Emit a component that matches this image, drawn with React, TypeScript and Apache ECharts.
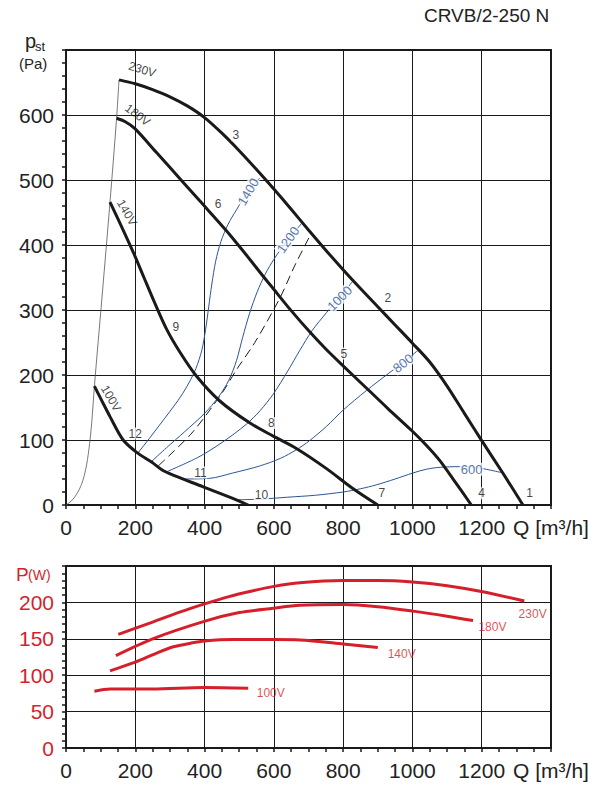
import React, { useEffect, useRef } from 'react';
import * as echarts from 'echarts';

const FONT = '"Liberation Sans", Arial, Helvetica, sans-serif';
const BLACK = '#1a1a1a';
const BLUE = '#2b5496';
const RED = '#d51f2b';

// ---- Top chart: static pressure pst [Pa] vs airflow Q [m3/h]
const p230 = [[153,654],[200,648],[250,639],[300,628],[350,614],[400,596],[450,572],[500,545],[550,516],[600,486],[650,455],[700,423],[750,392],[800,362],[850,333],[900,305],[950,277],[1000,249],[1050,220],[1100,183],[1150,141],[1200,99],[1260,50],[1319,0]];
const p180 = [[146,595],[170,590],[199,579],[260,543],[334,499],[386,468],[463,422],[520,385],[569,352],[598,333],[650,299],[704,266],[750,240],[800,214],[867,180],[930,148],[997,115],[1040,92],[1078,69],[1120,38],[1170,0]];
const p140 = [[127,466],[165,423],[199,383],[225,350],[252,316],[290,271],[329,235],[377,198],[444,160],[531,126],[598,106],[665,87],[752,56],[829,25],[900,0]];
const p100 = [[82,183],[100,164],[127,136],[165,100],[204,81],[247,66],[280,53],[309,46],[396,28],[463,14],[500,6],[526,0]];
const stallLine = [[0,0],[15,6],[30,16],[45,32],[57,55],[66,85],[74,125],[82,183],[104,320],[127,466],[146,595],[153,654]];
const systemCurve = [[266,60],[300,77],[367,113],[450,172],[492,208],[545,250],[617,318],[660,368],[708,418]];

// rpm iso-lines
const rpm1400 = [[206,79],[240,102],[270,123],[300,144],[330,166],[355,188],[375,210],[392,238],[403,270],[412,305],[421,340],[432,375],[447,405],[468,432],[492,454],[525,482],[559,503]];
const rpm1200 = [[247,67],[290,88],[343,113],[400,141],[440,166],[470,192],[492,222],[510,258],[530,295],[552,328],[575,355],[600,378],[640,408],[680,433]];
const rpm1000 = [[290,51],[380,73],[450,96],[520,124],[560,145],[600,172],[640,206],[675,238],[710,268],[752,296],[790,320],[829,345]];
const rpm800 = [[340,40],[415,41],[480,49],[559,60],[620,72],[665,85],[703,99],[752,121],[800,146],[867,176],[930,202],[975,220],[1016,238]];
const rpm600 = [[490,8],[560,9],[640,12],[720,15],[800,20],[850,25],[896,31],[950,40],[1000,49],[1040,55],[1080,58],[1136,59],[1180,58],[1213,55],[1256,50]];

// annotations (text, Q, pst)
const curveNumbers = [['1',1338,18],['2',929,319],['3',490,569],['4',1200,18],['5',802,233],['6',439,463],['7',912,18],['8',593,126],['9',317,274],['10',564,15],['11',388,50],['12',200,110]];
const voltageTags = [['230V',220,670],['180V',207,600],['140V',176,450],['100V',130,164]];
const rpmTags = [['1400',526,482],['1200',641,408],['1000',790,318],['800',973,218],['600',1171,55]];

// ---- Bottom chart: power P [W] vs Q [m3/h]
const w230 = [[151,156],[250,173],[330,187],[400,198],[470,208],[540,216],[600,222],[675,227],[800,230],[900,230],[1000,228],[1100,223],[1199,215],[1323,202]];
const w180 = [[144,127],[250,150],[399,174],[500,186],[598,192],[675,196],[800,197],[900,194],[1001,188],[1100,181],[1175,175]];
const w140 = [[127,106],[200,118],[260,130],[310,139],[360,144],[400,147],[482,149],[600,149],[675,148.5],[800,143],[900,138]];
const w100 = [[82,78],[127,81],[250,81],[399,83],[526,82]];
const powerTags = [['100V',591,76],['140V',969,129],['180V',1231,166],['230V',1347,184]];

// axis ranges / tick steps
const qAxis = { min: 0, max: 1400, step: 200 };
const pAxis = { min: 0, max: 700, step: 100 };
const wAxis = { min: 0, max: 250, step: 50 };

// label rotations (style)
const voltageRot: Record<string, number> = { '230V': -17, '180V': -37, '140V': -60, '100V': -60 };
const rpmRot: Record<string, number> = { '1400': 59, '1200': 55, '1000': 45, '800': 38, '600': 0 };

function xAxisDef(grid: number) {
  return {
    type: 'value', gridIndex: grid, min: qAxis.min, max: qAxis.max, interval: qAxis.step,
    axisLine: { show: true, onZero: false, lineStyle: { color: BLACK, width: 2 } },
    axisTick: { show: true, length: 4, lineStyle: { color: BLACK, width: 1.5 } },
    minorTick: { show: true, splitNumber: 4, length: 4, lineStyle: { color: BLACK, width: 1.5 } },
    splitLine: { show: true, lineStyle: { color: BLACK, width: 1 } },
    axisLabel: {
      margin: 12, fontSize: 21, color: '#222', fontFamily: FONT,
      formatter: (v: number) => (v === qAxis.max ? 'Q [m³/h]' : String(v)),
    },
  };
}

function yAxisDef(grid: number, ax: { min: number; max: number; step: number }, color: string, minorSplit: number) {
  return {
    type: 'value', gridIndex: grid, min: ax.min, max: ax.max, interval: ax.step,
    axisLine: { show: true, onZero: false, lineStyle: { color: BLACK, width: 2 } },
    axisTick: { show: true, length: 4, lineStyle: { color: BLACK, width: 1.5 } },
    minorTick: { show: true, splitNumber: minorSplit, length: 4, lineStyle: { color: BLACK, width: 1.5 } },
    splitLine: { show: true, lineStyle: { color: BLACK, width: 1 } },
    axisLabel: {
      margin: 12, fontSize: 21, color, fontFamily: FONT,
      formatter: (v: number) => (v === ax.max ? '' : String(v)),
    },
  };
}

function line(data: number[][], color: string, width: number, grid: number, extra: any = {}) {
  return {
    type: 'line', xAxisIndex: grid, yAxisIndex: grid, data, symbol: 'none', smooth: 0.3,
    lineStyle: { color, width, ...extra }, silent: true, z: 3,
  };
}

function tags(list: any[], grid: number, color: string, size: number, rot: Record<string, number> | null, bg: boolean) {
  return {
    type: 'scatter', xAxisIndex: grid, yAxisIndex: grid, symbolSize: 0, silent: true, z: 10,
    data: list.map((t) => ({
      name: t[0], value: [t[1], t[2]],
      label: { rotate: rot ? rot[t[0]] : 0 },
    })),
    label: {
      show: true, position: 'inside', formatter: '{b}', color, fontSize: size, fontFamily: FONT,
      backgroundColor: bg ? '#fff' : 'transparent', padding: bg ? [0, 1] : 0,
    },
  };
}

export default function App() {
  const ref = useRef<HTMLDivElement>(null);
  useEffect(() => {
    if (!ref.current) return;
    const chart = echarts.init(ref.current, undefined, { renderer: 'svg' });
    chart.setOption({
      animation: false,
      backgroundColor: '#fff',
      grid: [
        { left: 66, top: 50, width: 485, height: 455, show: true, borderColor: BLACK, borderWidth: 2, backgroundColor: 'transparent' },
        { left: 66, top: 566, width: 485, height: 182, show: true, borderColor: BLACK, borderWidth: 2, backgroundColor: 'transparent' },
      ],
      xAxis: [xAxisDef(0), xAxisDef(1)],
      yAxis: [yAxisDef(0, pAxis, '#222', 5), yAxisDef(1, wAxis, RED, 5)],
      graphic: [
        { type: 'text', left: 424, top: 6, style: { text: 'CRVB/2-250 N', fontSize: 19, fontFamily: FONT, fill: '#222' } },
        { type: 'text', left: 25, top: 31, style: { text: 'p', fontSize: 20, fontFamily: FONT, fill: '#222' } },
        { type: 'text', left: 35, top: 40, style: { text: 'st', fontSize: 13, fontFamily: FONT, fill: '#222' } },
        { type: 'text', left: 19, top: 56, style: { text: '(Pa)', fontSize: 15, fontFamily: FONT, fill: '#222' } },
        { type: 'text', left: 16, top: 565, style: { text: 'P', fontSize: 19, fontFamily: FONT, fill: RED } },
        { type: 'text', left: 28, top: 568, style: { text: '(W)', fontSize: 14, fontFamily: FONT, fill: RED } },
      ],
      series: [
        line(stallLine, '#555', 0.8, 0),
        line(systemCurve, BLACK, 1, 0, { type: [9, 5] }),
        line(rpm1400, BLUE, 1, 0),
        line(rpm1200, BLUE, 1, 0),
        line(rpm1000, BLUE, 1, 0),
        line(rpm800, BLUE, 1, 0),
        line(rpm600, BLUE, 1, 0),
        line(p230, BLACK, 3, 0),
        line(p180, BLACK, 3, 0),
        line(p140, BLACK, 3, 0),
        line(p100, BLACK, 3, 0),
        tags(curveNumbers, 0, '#111', 12, null, true),
        tags(voltageTags, 0, '#111', 12, voltageRot, false),
        tags(rpmTags, 0, BLUE, 13, rpmRot, true),
        line(w230, RED, 3, 1),
        line(w180, RED, 3, 1),
        line(w140, RED, 3, 1),
        line(w100, RED, 3, 1),
        tags(powerTags, 1, RED, 12, null, false),
      ],
    });
    return () => chart.dispose();
  }, []);
  return <div ref={ref} style={{ position: 'absolute', left: 0, top: 0, width: 605, height: 801 }} />;
}
